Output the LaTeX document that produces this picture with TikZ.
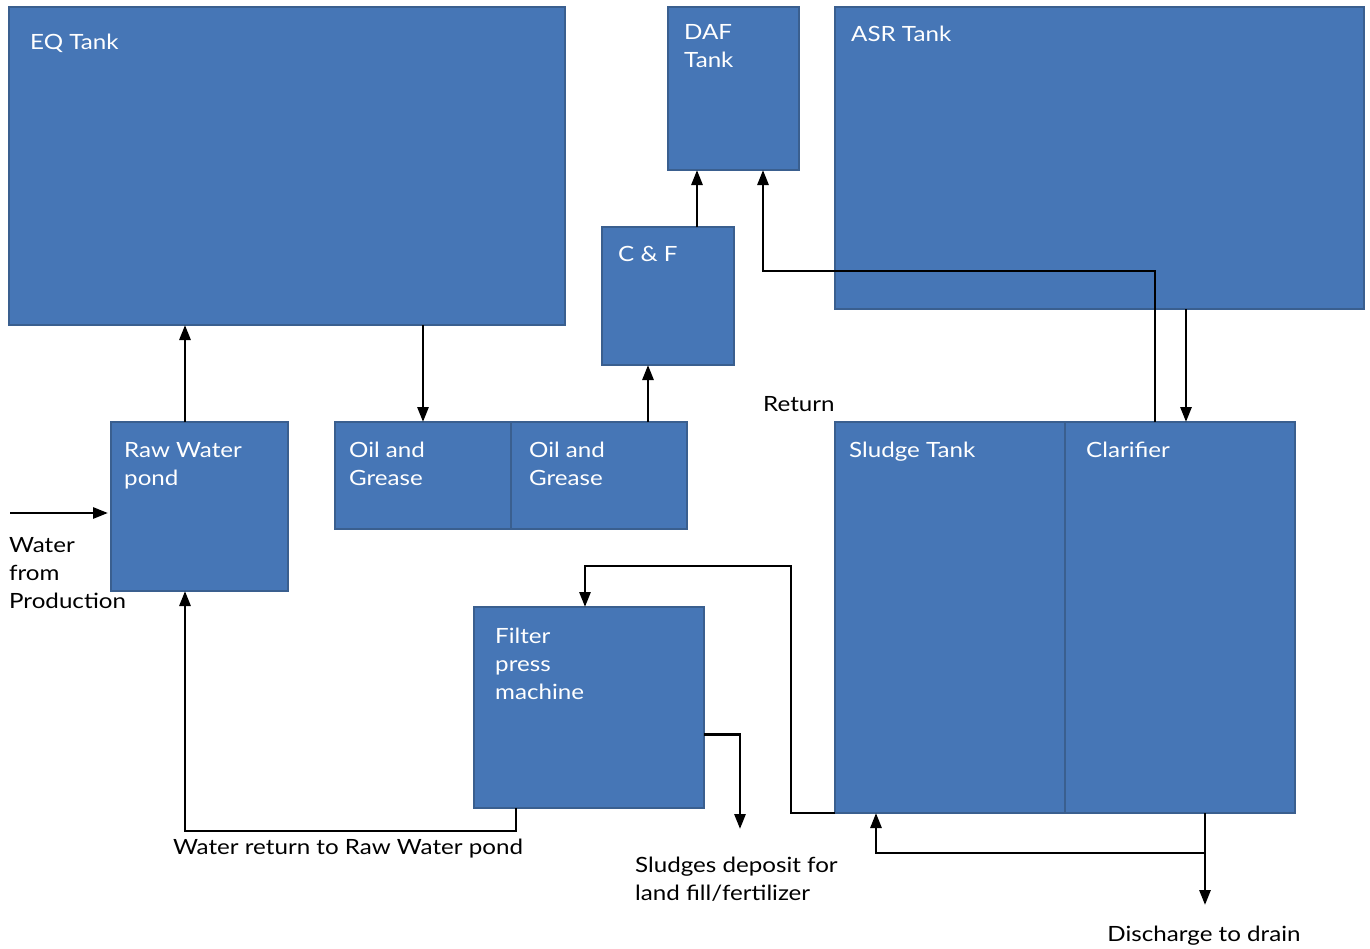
\documentclass[tikz,border=0pt]{standalone}
\usepackage{fontspec}
\setmainfont[FakeStretch=1.15]{Lato}
\usepackage{tikz}
\usetikzlibrary{arrows.meta,positioning}
\definecolor{tankblue}{HTML}{4676B6}
\definecolor{tankedge}{HTML}{3A5F8F}

\tikzset{
	tank/.style={draw=tankedge,fill=tankblue,line width=2pt,anchor=north west,
		inner sep=0pt,outer sep=0pt},
	box size/.style 2 args={minimum width=#1,minimum height=#2},
	tanktxt/.style={anchor=north west,inner sep=0pt,text=white,align=left,
		font=\fontsize{21}{28}\selectfont},
	plaintxt/.style={inner sep=0pt,align=left,font=\fontsize{21}{28}\selectfont},
	flow/.style={-{Triangle[length=15pt,width=11pt]},line width=2.8pt}
}

\begin{document}
\begin{tikzpicture}[x=1pt,y=-1pt]
	\useasboundingbox (0,0) rectangle (1370,948);

	\node[tank,box size={556}{318}] (eq)     at (9,7)     {};
	\node[tank,box size={131}{163}] (daf)    at (668,7)   {};
	\node[tank,box size={529}{302}] (asr)    at (835,7)   {};
	\node[tank,box size={132}{138}] (cf)     at (602,227) {};
	\node[tank,box size={177}{169}] (raw)    at (111,422) {};
	\node[tank,box size={176}{107}] (oil1)   at (335,422) {};
	\node[tank,box size={176}{107},right=0pt of oil1] (oil2) {};
	\node[tank,box size={230}{391}] (sludge) at (835,422) {};
	\node[tank,box size={230}{391},right=0pt of sludge] (clar) {};
	\node[tank,box size={230}{201}] (filt)   at (474,607) {};

	\node[tanktxt] (eqtxt)     at ([shift={(21,27)}]eq.north west)     {EQ Tank};
	\node[tanktxt] (daftxt)    at ([shift={(16,17)}]daf.north west)    {DAF\\Tank};
	\node[tanktxt] (asrtxt)    at ([shift={(16,19)}]asr.north west)    {ASR Tank};
	\node[tanktxt] (cftxt)     at ([shift={(16,19)}]cf.north west)     {C \& F};
	\node[tanktxt] (rawtxt)    at ([shift={(13,20)}]raw.north west)    {Raw Water\\pond};
	\node[tanktxt] (oil1txt)   at ([shift={(14,20)}]oil1.north west)   {Oil and\\Grease};
	\node[tanktxt] (oil2txt)   at ([shift={(18,20)}]oil2.north west)   {Oil and\\Grease};
	\node[tanktxt] (sludgetxt) at ([shift={(14,20)}]sludge.north west) {Sludge Tank};
	\node[tanktxt] (clartxt)   at ([shift={(21,20)}]clar.north west)   {Clarifier};
	\node[tanktxt] (filttxt)   at ([shift={(21,21)}]filt.north west)   {Filter\\press\\machine};

	\coordinate (prod)     at (10,513);
	\coordinate (ret)      at (791,566);
	\coordinate (landfill) at (740,829);
	\coordinate (split)    at (1205,853);
	\coordinate (drain)    at (1205,905);

	\path[flow]
		([xshift=74pt]raw.north west)   edge ([xshift=176pt]eq.south west)
		([xshift=414pt]eq.south west)   edge ([xshift=88pt]oil1.north west)
		([xshift=137pt]oil2.north west) edge ([xshift=46pt]cf.south west)
		([xshift=95pt]cf.north west)    edge ([xshift=29pt]daf.south west)
		([xshift=351pt]asr.south west)  edge ([xshift=121pt]clar.north west)
		(prod)                          edge [shorten >=3pt] (prod -| raw.west)
		([xshift=140pt]clar.south west) edge (drain);
	\draw[flow] ([xshift=90pt]clar.north west) -- ++(0,-151) -| ([xshift=95pt]daf.south west);
	\draw[flow] ([xshift=42pt]filt.south west) -- ++(0,23) -| ([xshift=74pt]raw.south west);
	\draw[flow] (sludge.south west) -| (ret) -| ([xshift=111pt]filt.north west);
	\draw[flow] ([shift={(0,27)}]filt.east) -| (landfill);
	\draw[flow] (split) -| ([xshift=41pt]sludge.south west);

	\node[plaintxt,anchor=north west] (prodtxt)  at (9,537)    {Water\\from\\Production};
	\node[plaintxt,anchor=north west] (rettxt)   at (763,396)  {Return};
	\node[plaintxt,anchor=north]      (backtxt)  at (348,839)  {Water return to Raw Water pond};
	\node[plaintxt,anchor=north west] (filltxt)  at (635,857)  {Sludges deposit for\\land fill/fertilizer};
	\node[plaintxt,anchor=north]      (draintxt) at (1204,926) {Discharge to drain};
\end{tikzpicture}
\end{document}
